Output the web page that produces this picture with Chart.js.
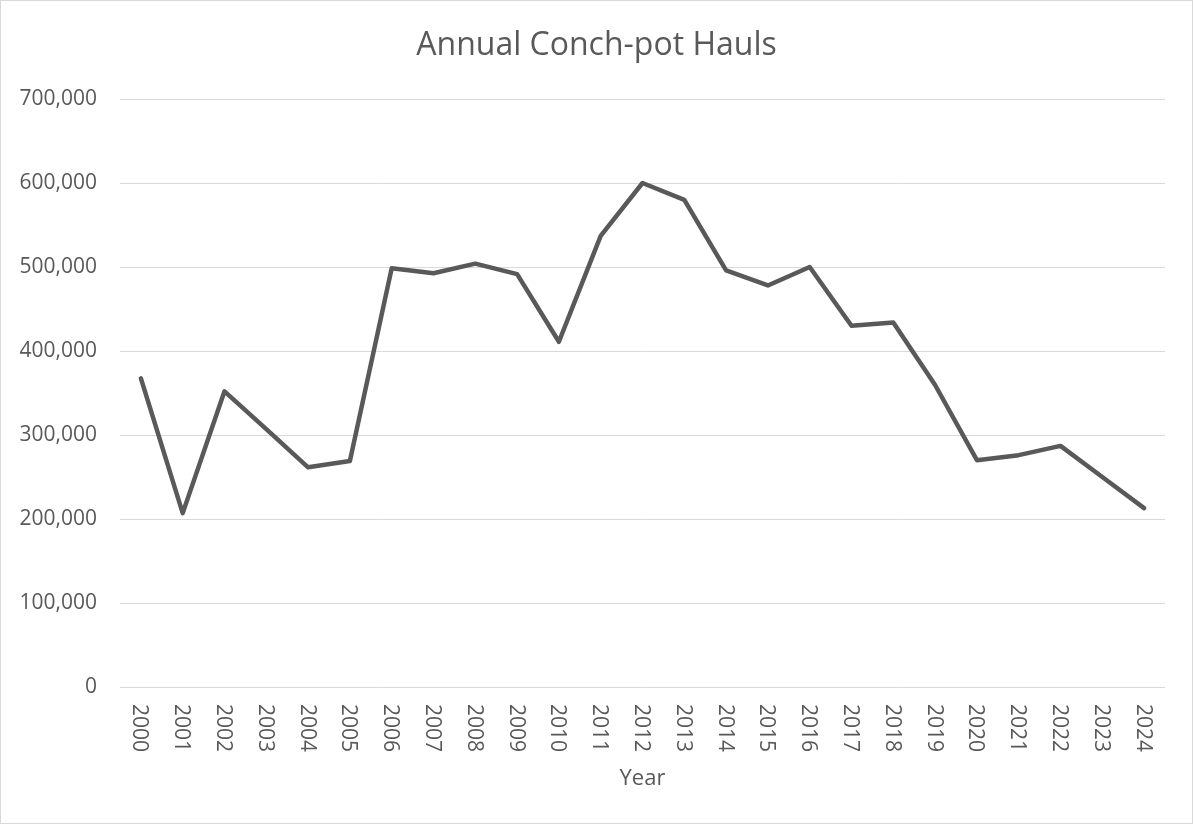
<!DOCTYPE html>
<html>
<head>
<meta charset="utf-8">
<script src="https://cdn.jsdelivr.net/npm/chart.js@4/dist/chart.umd.min.js"></script>
<style>
  html, body { margin: 0; padding: 0; background: #ffffff; }
  #wrap { width: 1193px; height: 824px; position: relative; }
</style>
</head>
<body>
<div id="wrap"><canvas id="c" width="1193" height="824"></canvas></div>
<script>
const years = ['2000','2001','2002','2003','2004','2005','2006','2007','2008','2009','2010','2011','2012','2013','2014','2015','2016','2017','2018','2019','2020','2021','2022','2023','2024'];
const hauls = [367500, 207000, 352000, 307000, 261500, 269000, 498500, 492500, 504000, 491500, 411000, 537000, 600000, 580000, 496000, 478000, 500000, 430000, 434000, 359500, 270000, 276000, 287000, 250000, 213000];
const yTicks = [0, 100000, 200000, 300000, 400000, 500000, 600000, 700000];
const chartTitle = 'Annual Conch-pot Hauls';
const xTitle = 'Year';

const FONT = '"Open Sans", "Liberation Sans", sans-serif';
const GREY = '#595959';

const frame = {
  id: 'frame',
  beforeDraw(chart) {
    const ctx = chart.ctx;
    ctx.save();
    ctx.fillStyle = '#ffffff';
    ctx.fillRect(0, 0, chart.width, chart.height);
    ctx.strokeStyle = '#d9d9d9';
    ctx.lineWidth = 1;
    ctx.strokeRect(0.5, 0.5, chart.width - 1, chart.height - 1);
    ctx.restore();
  }
};

const rotatedX = {
  id: 'rotatedX',
  afterDraw(chart) {
    const ctx = chart.ctx;
    const xs = chart.scales.x;
    ctx.save();
    ctx.fillStyle = GREY;
    ctx.font = '21px ' + FONT;
    ctx.textAlign = 'left';
    ctx.textBaseline = 'middle';
    years.forEach((lab, i) => {
      const x = xs.getPixelForTick(i);
      ctx.save();
      ctx.translate(x - 1.5, chart.chartArea.bottom + 17);
      ctx.rotate(Math.PI / 2);
      ctx.fillText(lab, 0, 0);
      ctx.restore();
    });
    ctx.restore();
  }
};

new Chart(document.getElementById('c'), {
  type: 'line',
  data: {
    labels: years,
    datasets: [{
      label: 'Hauls',
      data: hauls,
      borderColor: GREY,
      backgroundColor: GREY,
      borderWidth: 4.5,
      pointRadius: 0,
      tension: 0,
      borderJoinStyle: 'round',
      borderCapStyle: 'round',
      fill: false
    }]
  },
  options: {
    responsive: false,
    animation: false,
    devicePixelRatio: 1,
    layout: { padding: { left: 0, right: 0, top: 0, bottom: 0 } },
    plugins: {
      legend: { display: false },
      tooltip: { enabled: false },
      title: {
        display: true,
        text: chartTitle,
        color: GREY,
        font: { family: FONT, size: 32, weight: 'normal', lineHeight: 1.2 },
        padding: { top: 27, bottom: 33.6 }
      }
    },
    scales: {
      x: {
        type: 'category',
        offset: true,
        grid: { display: false, drawTicks: false },
        border: { display: false },
        ticks: { display: false },
        title: {
          display: true,
          text: xTitle,
          color: GREY,
          font: { family: FONT, size: 22, lineHeight: 1.2 },
          padding: { top: 0, bottom: 32.5 }
        },
        afterFit(scale) { scale.height = 137; }
      },
      y: {
        min: 0,
        max: 700000,
        afterBuildTicks(scale) { scale.ticks = yTicks.map(v => ({ value: v })); },
        grid: { color: '#d9d9d9', lineWidth: 1, drawTicks: false },
        border: { display: false },
        ticks: {
          color: GREY,
          padding: 23,
          font: { family: FONT, size: 21 },
          callback: (v) => Number(v).toLocaleString('en-US')
        },
        afterFit(scale) { scale.width = 120; }
      },
      spacer: {
        type: 'linear',
        position: 'right',
        display: true,
        grid: { display: false, drawTicks: false },
        border: { display: false },
        ticks: { display: false },
        afterFit(scale) { scale.width = 28; }
      }
    }
  },
  plugins: [frame, rotatedX]
});
</script>
</body>
</html>
